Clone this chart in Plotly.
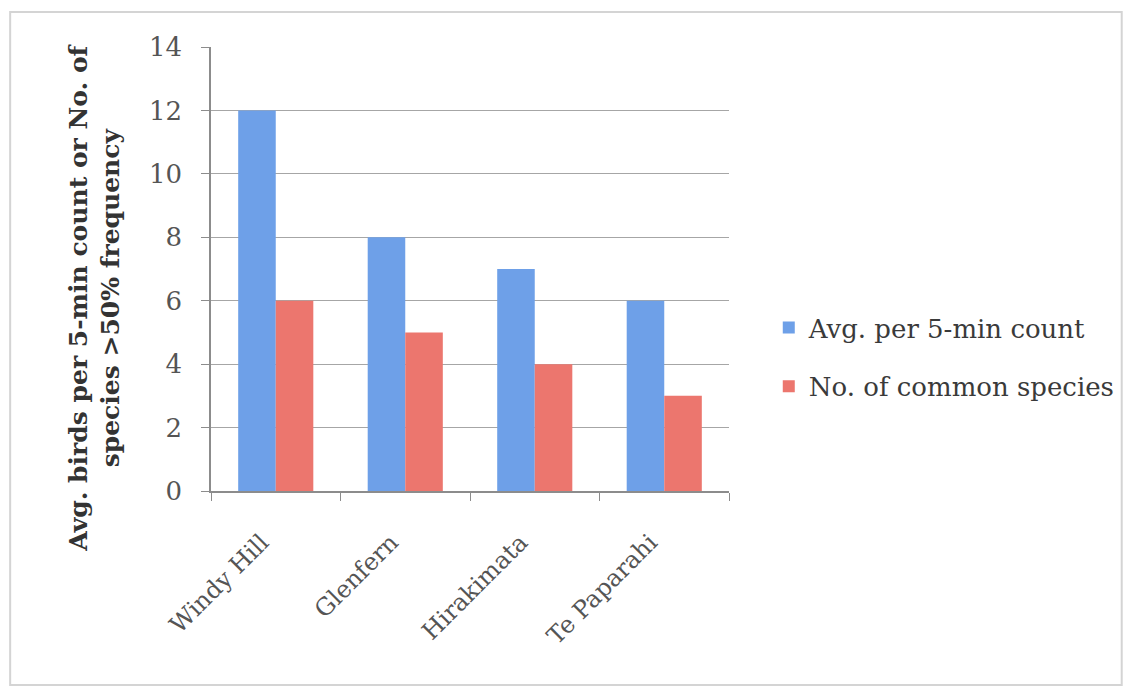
import plotly.graph_objects as go

categories = ["Windy Hill", "Glenfern", "Hirakimata", "Te Paparahi"]
avg_per_count = [12, 8, 7, 6]
common_species = [6, 5, 4, 3]
series_names = ["Avg. per 5-min count", "No. of common species"]
y_ticks = [0, 2, 4, 6, 8, 10, 12, 14]

W, H = 1132, 691
L, R, T, B = 211, 732, 47, 491

FONT = "DejaVu Serif"
GRAY = "#555555"

fig = go.Figure()
fig.add_trace(go.Bar(x=categories, y=avg_per_count, name=series_names[0],
                     legendgroup="a",
                     marker=dict(color="#6ea0e8", line=dict(width=0))))
fig.add_trace(go.Bar(x=categories, y=common_species, name=series_names[1],
                     legendgroup="b",
                     marker=dict(color="#ec766e", line=dict(width=0))))

pw = R - L
ph = B - T
def px(x):
    return (x - L) / pw
def py(y):
    return (B - y) / ph

fig.update_layout(
    width=W, height=H,
    margin=dict(l=L, r=W - R, t=T, b=H - B),
    paper_bgcolor="white", plot_bgcolor="white",
    barmode="group", bargap=0.42, bargroupgap=0,
    font=dict(family=FONT, color=GRAY, size=24),
    showlegend=True,
    legend=dict(x=px(772), y=py(357), xanchor="left", yanchor="middle",
                font=dict(family=FONT, size=26, color="#3a3a3a"),
                bgcolor="rgba(0,0,0,0)", itemwidth=30,
                traceorder="grouped", tracegroupgap=22),
    xaxis=dict(type="category", tickangle=-45, showgrid=False,
               showline=True, linecolor="#8c8c8c", linewidth=1.5,
               ticks="outside", tickson="boundaries", ticklen=8,
               tickcolor="#8c8c8c", ticklabelstandoff=26, ticklabelshift=-14,
               tickfont=dict(family=FONT, size=24, color=GRAY)),
    yaxis=dict(range=[0, 14], tickvals=y_ticks, showgrid=True,
               gridcolor="#a6a6a6", gridwidth=1.2,
               showline=True, linecolor="#8c8c8c", linewidth=1.5,
               ticks="outside", ticklen=8, tickcolor="#8c8c8c",
               ticklabelstandoff=14,
               tickfont=dict(family=FONT, size=26, color=GRAY), zeroline=False),
    annotations=[dict(
        text="<b>Avg. birds per 5-min count or No. of<br>species >50% frequency</b>",
        xref="paper", yref="paper", x=px(94), y=py(298),
        xanchor="center", yanchor="middle", textangle=-90, showarrow=False,
        font=dict(family=FONT, size=25, color="#333333"))],
    shapes=[dict(type="rect", xref="paper", yref="paper",
                 x0=px(9), x1=px(1127), y0=py(685), y1=py(12),
                 line=dict(color="#d4d4d4", width=2), layer="below")],
)

fig.write_html("out.html")
